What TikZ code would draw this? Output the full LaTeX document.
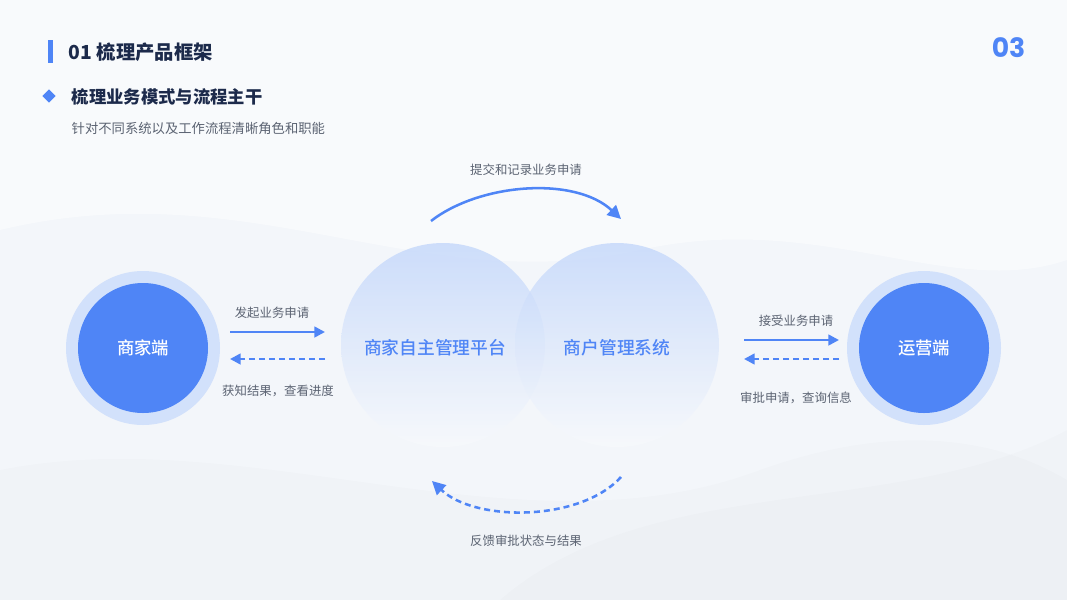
\documentclass[tikz,border=0pt]{standalone}
\usepackage{fontspec}
\setmainfont{Noto Sans CJK SC}
\newfontfamily\medfont{Noto Sans CJK SC Medium}
\newfontfamily\numfont{Poppins}
\usetikzlibrary{positioning,arrows.meta,calc,shapes.geometric}
\definecolor{brand}{HTML}{4F85F6}
\definecolor{ringbg}{HTML}{D2E1FB}
\definecolor{ink}{HTML}{1C2A4B}
\definecolor{muted}{HTML}{5B6372}
\definecolor{softbg}{HTML}{F3F6FA}
\definecolor{venn}{HTML}{BFD4FA}

\begin{document}
\begin{tikzpicture}[
    x=0.75pt, y=-0.75pt,
    node distance=6pt,
    ring/.style={circle, fill=ringbg, minimum size=115.5pt, inner sep=0pt},
    hub/.style={circle, fill=brand, minimum size=97.5pt, inner sep=0pt, text=white, font=\fontsize{13}{15}\selectfont\medfont},
    sys/.style={circle, minimum size=153pt, inner sep=0pt, top color=venn, bottom color=softbg!60!white, fill opacity=0.75},
    systext/.style={text=brand, font=\fontsize{13.3}{15}\selectfont\medfont},
    lbl/.style={text=muted, font=\fontsize{9.3}{11}\selectfont, inner sep=1pt},
    flow/.style={-{Triangle[length=8pt, width=8pt]}, line width=1.9pt, draw=brand},
    back/.style={flow, dash pattern=on 4.5pt off 3pt},
    bigtip/.style={-{Triangle[length=10pt, width=10pt]}}
]
    % background
    \fill[softbg] (0,0) rectangle (1067,600);
    \fill[white, opacity=0.45] (0,230) .. controls (250,170) and (420,300) .. (640,250)
        .. controls (820,210) and (950,300) .. (1067,260) -- (1067,0) -- (0,0) -- cycle;
    \fill[black, opacity=0.012] (0,600) -- (0,470) .. controls (250,420) and (520,560) .. (760,470)
        .. controls (900,420) and (1000,440) .. (1067,480) -- (1067,600) -- cycle;
    \fill[black, opacity=0.012] (500,600) .. controls (650,470) and (900,520) .. (1067,430) -- (1067,600) -- cycle;
    \useasboundingbox (0,0) rectangle (1067,600);

    % header
    \fill[brand] (48,40) rectangle (53,63);
    \node[anchor=west, text=ink, font=\fontsize{14.5}{16}\selectfont\bfseries] (title) at (64,52) {01 梳理产品框架};
    \node[anchor=east, text=brand, font=\fontsize{20}{22}\selectfont\numfont\bfseries] (page) at (1030,48) {03};
    \node[diamond, fill=brand, minimum size=10pt, inner sep=0pt] (dot) at (49,96) {};
    \node[anchor=west, text=ink, font=\fontsize{13}{15}\selectfont\bfseries] (head) at (67,97) {梳理业务模式与流程主干};
    \node[anchor=west, text=muted, font=\fontsize{10}{12}\selectfont] (sub) at (67,128) {针对不同系统以及工作流程清晰角色和职能};

    % merchant / operator
    \node[ring] (merchantring) at (143,348) {};
    \node[hub] (merchant) at (143,348) {商家端};
    \node[ring] (opsring) at (924,348) {};
    \node[hub] (ops) at (924,348) {运营端};

    % systems
    \node[sys] (platform) at (443,345) {};
    \node[sys] (system) at (617,345) {};
    \node[systext] at (435,348) {商家自主管理平台};
    \node[systext] at (617,348) {商户管理系统};

    % left exchange
    \coordinate (la) at (230,332);
    \coordinate (lb) at (325,332);
    \coordinate (lc) at (325,359);
    \coordinate (ld) at (230,359);
    \draw[flow] (la) -- (lb);
    \draw[back] (lc) -- (ld);
    \node[lbl] (apply) at (272,313) {发起业务申请};
    \node[lbl] (progress) at (278,391) {获知结果，查看进度};

    % right exchange
    \coordinate (ra) at (744,340);
    \coordinate (rb) at (839,340);
    \coordinate (rc) at (839,359);
    \coordinate (rd) at (744,359);
    \draw[flow] (ra) -- (rb);
    \draw[back] (rc) -- (rd);
    \node[lbl] (accept) at (796,321) {接受业务申请};
    \node[lbl] (review) at (796,398) {审批申请，查询信息};

    % arcs between systems
    \coordinate (ta) at (431,221);
    \coordinate (tb) at (621,219);
    \draw[flow, bigtip] (ta) .. controls (480,183) and (575,176) .. (tb);
    \node[lbl] (submit) at (526,170) {提交和记录业务申请};
    \coordinate (ba) at (621,477);
    \coordinate (bb) at (432,481);
    \draw[back, bigtip] (ba) .. controls (580,522) and (475,522) .. (bb);
    \node[lbl] (feedback) at (526,541) {反馈审批状态与结果};
\end{tikzpicture}
\end{document}
